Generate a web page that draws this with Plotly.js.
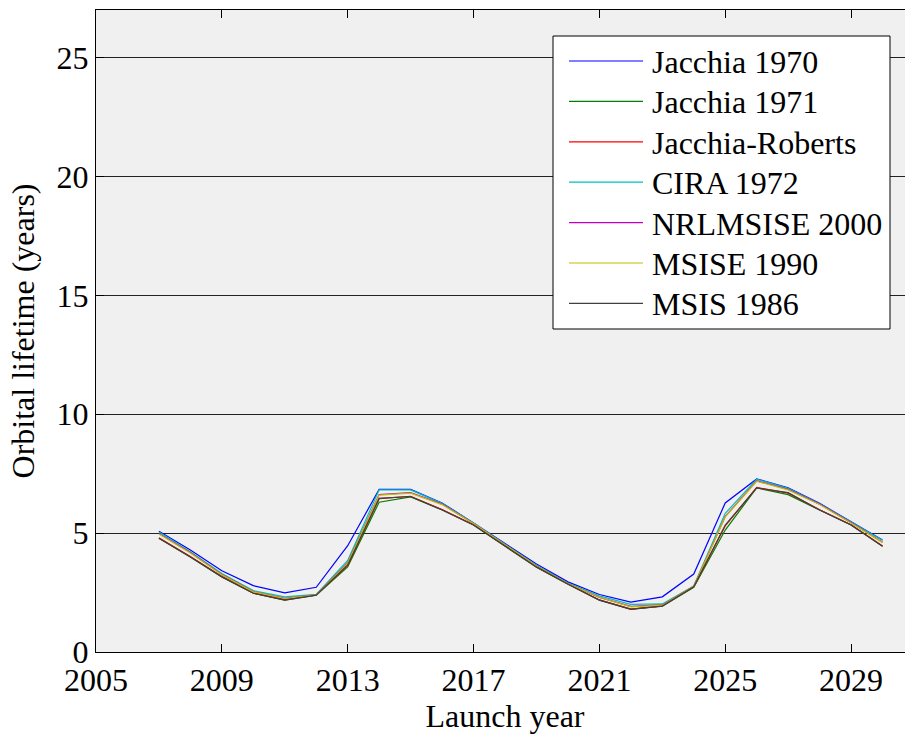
<!DOCTYPE html>
<html>
<head>
<meta charset="utf-8">
<script src="https://cdn.plot.ly/plotly-3.0.1.min.js"></script>
<style>
  html, body { margin: 0; padding: 0; overflow: hidden; background: #ffffff; }
  #chart { width: 930px; height: 734px; }
</style>
</head>
<body>
<div id="chart"></div>
<script>
// Launch years
const years = [2007, 2008, 2009, 2010, 2011, 2012, 2013, 2014, 2015, 2016, 2017, 2018,
               2019, 2020, 2021, 2022, 2023, 2024, 2025, 2026, 2027, 2028, 2029, 2030];

// Orbital lifetime (years) per atmospheric density model
const jacchia1970    = [5.08, 4.29, 3.42, 2.79, 2.49, 2.72, 4.47, 6.84, 6.84, 6.27, 5.43, 4.57,
                        3.70, 2.95, 2.42, 2.10, 2.32, 3.28, 6.27, 7.28, 6.90, 6.25, 5.49, 4.71];
const jacchia1971    = [4.78, 4.00, 3.16, 2.47, 2.18, 2.39, 3.58, 6.30, 6.52, 5.98, 5.34, 4.45,
                        3.56, 2.85, 2.18, 1.80, 1.93, 2.72, 5.13, 6.90, 6.62, 5.97, 5.34, 4.45];
const jacchiaRoberts = [4.80, 4.02, 3.18, 2.48, 2.20, 2.40, 3.64, 6.45, 6.55, 5.99, 5.35, 4.47,
                        3.58, 2.86, 2.19, 1.80, 1.94, 2.74, 5.30, 6.92, 6.68, 5.98, 5.35, 4.46];
const cira1972       = [5.05, 4.22, 3.30, 2.58, 2.32, 2.42, 3.85, 6.82, 6.82, 6.25, 5.42, 4.55,
                        3.65, 2.90, 2.36, 2.00, 2.02, 2.78, 5.83, 7.27, 6.88, 6.23, 5.47, 4.70];
const nrlmsise2000   = [4.98, 4.18, 3.26, 2.54, 2.26, 2.40, 3.76, 6.62, 6.70, 6.22, 5.40, 4.52,
                        3.62, 2.88, 2.30, 1.92, 1.98, 2.76, 5.70, 7.20, 6.84, 6.22, 5.44, 4.62];
const msise1990      = [4.96, 4.16, 3.25, 2.53, 2.25, 2.40, 3.74, 6.60, 6.68, 6.20, 5.40, 4.52,
                        3.62, 2.88, 2.30, 1.90, 1.97, 2.76, 5.68, 7.18, 6.82, 6.20, 5.43, 4.60];
const msis1986       = [4.78, 4.00, 3.16, 2.47, 2.18, 2.39, 3.66, 6.46, 6.54, 5.97, 5.34, 4.47,
                        3.58, 2.86, 2.18, 1.79, 1.93, 2.74, 5.34, 6.90, 6.70, 5.97, 5.34, 4.45];

const seriesNames  = ['Jacchia 1970', 'Jacchia 1971', 'Jacchia-Roberts', 'CIRA 1972',
                      'NRLMSISE 2000', 'MSISE 1990', 'MSIS 1986'];
const seriesValues = [jacchia1970, jacchia1971, jacchiaRoberts, cira1972,
                      nrlmsise2000, msise1990, msis1986];
const seriesColors = ['#0000ff', '#008000', '#ff0000', '#00bfbf', '#bf00bf', '#bfbf00', '#404040'];

const xTicks = [2005, 2009, 2013, 2017, 2021, 2025, 2029];
const yTicks = [0, 5, 10, 15, 20, 25];

const serif = 'Liberation Serif, Times New Roman, serif';
const fontSize = 32;

// Figure geometry (px)
const W = 930, H = 734;
const M = { l: 96, r: 16, t: 10, b: 82 };
const plotW = W - M.l - M.r, plotH = H - M.t - M.b;
const px2x = px => (px - M.l) / plotW;        // page px -> paper x
const py2y = py => (H - M.b - py) / plotH;    // page px -> paper y

const traces = seriesNames.map((name, i) => ({
  type: 'scatter',
  mode: 'lines',
  name: name,
  x: years,
  y: seriesValues[i],
  line: { color: seriesColors[i], width: 1.2 }
}));

// Boxed key in the upper right: a short line sample and a label per series
const key = { left: 553, right: 890, top: 36, bottom: 329,
              lineX0: 569, lineX1: 643, textX: 650, row0: 61, rowStep: 40.4 };

const shapes = [{
  type: 'rect', xref: 'paper', yref: 'paper',
  x0: px2x(key.left), x1: px2x(key.right), y0: py2y(key.bottom), y1: py2y(key.top),
  fillcolor: '#ffffff', line: { color: '#000000', width: 1 }, layer: 'above'
}];
const annotations = [];
seriesNames.forEach((name, i) => {
  const cy = key.row0 + i * key.rowStep;
  shapes.push({
    type: 'line', xref: 'paper', yref: 'paper',
    x0: px2x(key.lineX0), x1: px2x(key.lineX1), y0: py2y(cy), y1: py2y(cy),
    line: { color: seriesColors[i], width: 1.2 }, layer: 'above'
  });
  annotations.push({
    xref: 'paper', yref: 'paper', x: px2x(key.textX), y: py2y(cy + 1),
    xanchor: 'left', yanchor: 'middle', showarrow: false, text: name,
    font: { family: serif, size: fontSize, color: '#000000' }
  });
});

const layout = {
  width: W,
  height: H,
  margin: M,
  paper_bgcolor: '#ffffff',
  plot_bgcolor: '#f0f0f0',
  font: { family: serif, size: fontSize, color: '#000000' },
  showlegend: false,
  shapes: shapes,
  annotations: annotations,
  xaxis: {
    range: [2005, 2031],
    tickmode: 'array', tickvals: xTicks, ticktext: xTicks.map(String),
    ticks: 'inside', ticklen: 8, tickcolor: '#000000', tickwidth: 1,
    showline: true, linecolor: '#000000', linewidth: 1, mirror: 'ticks',
    showgrid: false, zeroline: false,
    tickfont: { family: serif, size: fontSize, color: '#000000' },
    title: { text: 'Launch year', font: { family: serif, size: fontSize, color: '#000000' }, standoff: 8 }
  },
  yaxis: {
    range: [0, 27],
    tickmode: 'array', tickvals: yTicks, ticktext: yTicks.map(String),
    ticks: 'inside', ticklen: 8, tickcolor: '#000000', tickwidth: 1,
    showline: true, linecolor: '#000000', linewidth: 1, mirror: 'ticks',
    showgrid: true, gridcolor: '#222222', gridwidth: 1, zeroline: false,
    tickfont: { family: serif, size: fontSize, color: '#000000' },
    title: { text: 'Orbital lifetime (years)', font: { family: serif, size: fontSize, color: '#000000' }, standoff: 12 }
  }
};

Plotly.newPlot('chart', traces, layout, { displayModeBar: false, staticPlot: true });
</script>
</body>
</html>
